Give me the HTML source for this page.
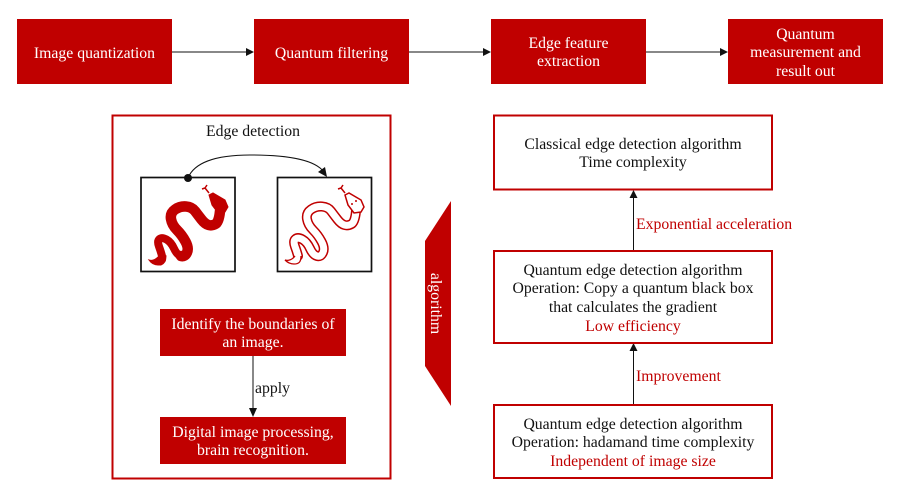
<!DOCTYPE html>
<html><head><meta charset="utf-8"><style>
html,body{margin:0;padding:0;background:#fff;width:900px;height:489px;overflow:hidden}
svg{display:block}
text{font-family:"Liberation Serif",serif;font-size:15.75px;text-anchor:middle;fill:#111}
.w{fill:#fff}.r{fill:#c00000}
.l{text-anchor:start}
</style></head><body>
<svg width="900" height="489" viewBox="0 0 900 489" xmlns="http://www.w3.org/2000/svg">
<defs>
<path id="b1" d="M220 211 Q219 222 215.500 224 Q212 226 208.500 225 Q205 224 201.500 219.500 Q198 215 195 211 Q192 207 186 206.500 Q180 206 175 209.500 Q170 213 171 219 Q172 225 177 230 Q182 235 185.500 241.500 Q189 248 187 252.500 Q185 257 181 256" fill="none" stroke-linecap="round" stroke-linejoin="round"/>
<path id="b2" d="M181 256 Q177 255 174 248.500 Q171 242 166.500 239.500 Q162 237 159.500 239 Q157 241 159 246.500 Q161 252 162 256 Q163 260 160 261.500" fill="none" stroke-linecap="round" stroke-linejoin="round"/>
<path id="whole" d="M220 211 Q219 222 215.500 224 Q212 226 208.500 225 Q205 224 201.500 219.500 Q198 215 195 211 Q192 207 186 206.500 Q180 206 175 209.500 Q170 213 171 219 Q172 225 177 230 Q182 235 185.500 241.500 Q189 248 187 252.500 Q185 257 181 256 Q177 255 174 248.500 Q171 242 166.500 239.500 Q162 237 159.500 239 Q157 241 159 246.500 Q161 252 162 256" fill="none" stroke-linecap="round" stroke-linejoin="round"/>
</defs>
<g fill="#c00000">
<rect x="17" y="19" width="155" height="65"/>
<rect x="254" y="19" width="155" height="65"/>
<rect x="491" y="19" width="155" height="65"/>
<rect x="728" y="19" width="155" height="65"/>
<rect x="160" y="309" width="186" height="47"/>
<rect x="160" y="417" width="186" height="47"/>
<polygon points="451,201 451,406 425,366 425,241"/>
</g>
<g stroke="#111" stroke-width="1" fill="none">
<line x1="172" y1="52" x2="247" y2="52"/>
<line x1="409" y1="52" x2="484" y2="52"/>
<line x1="646" y1="52" x2="721" y2="52"/>
<line x1="253" y1="356" x2="253" y2="411"/>
<line x1="633.500" y1="250" x2="633.500" y2="196"/>
<line x1="633.500" y1="404" x2="633.500" y2="349"/>
<path d="M188 178 C194 163 215 155 250 155 C290 155 315 160 324 172"/>
</g>
<g fill="#111">
<polygon points="254,52 246,48 246,56"/>
<polygon points="491,52 483,48 483,56"/>
<polygon points="728,52 720,48 720,56"/>
<polygon points="253,417 249,408 257,408"/>
<polygon points="633.500,190 629.500,198 637.500,198"/>
<polygon points="633.500,343 629.500,351 637.500,351"/>
<polygon points="327,177 318,172 325,167"/>
<circle cx="188" cy="178" r="4"/>
</g>
<g fill="none" stroke="#c00000" stroke-width="2">
<rect x="112.500" y="115.500" width="278" height="363"/>
<rect x="494" y="115.500" width="278" height="74"/>
<rect x="494" y="251" width="278" height="92"/>
<rect x="494" y="405" width="278" height="73"/>
</g>
<g fill="none" stroke="#111" stroke-width="1.700">
<rect x="141" y="177.500" width="94" height="94"/>
<rect x="277.500" y="177.500" width="94" height="94"/>
</g>
<!-- filled snake -->
<g stroke="#c00000">
<use href="#b1" stroke-width="10.500"/>
<use href="#b2" stroke-width="8"/>
<path d="M166 256 C165 262 163 265 158 265 C154 265 151 263 149 260 C152 261 155 260 158 257 Z" fill="#c00000" stroke-width="1"/>
<path d="M209 195 L213 193 L225 200 L228 207 L225 212 L218 213 L212 205 Z" fill="#c00000" stroke-width="1"/>
<path d="M209 193 L205 188 M205 188 L202 189 M205 188 L207 185" fill="none" stroke-width="1.500"/>
</g>
<!-- outlined snake -->
<g transform="translate(136 0)">
<g stroke="#c00000"><use href="#whole" stroke-width="10"/></g>
<g stroke="#fff"><use href="#whole" stroke-width="7"/></g>
<path d="M165 256 C165 262 163 264 158 264 C154 264 151 262 149 260 C152 261 156 260 159 256" fill="#fff" stroke="#c00000" stroke-width="1.300"/>
<path d="M209 195 L213 193 L225 200 L228 207 L225 212 L218 213 L212 205 Z" fill="#fff" stroke="#c00000" stroke-width="1.500"/>
<path d="M209 193 L205 188 M205 188 L202 189 M205 188 L207 185" fill="none" stroke="#c00000" stroke-width="1.500"/>
<circle cx="216" cy="204" r="1" fill="#c00000"/><circle cx="220" cy="201" r="1" fill="#c00000"/>
</g>
<text class="w" x="94.500" y="58">Image quantization</text>
<text class="w" x="331.500" y="58">Quantum filtering</text>
<text class="w" x="568.500" y="48">Edge feature</text>
<text class="w" x="568.500" y="66">extraction</text>
<text class="w" x="805.500" y="39">Quantum</text>
<text class="w" x="805.500" y="57">measurement and</text>
<text class="w" x="805.500" y="76">result out</text>
<text x="253" y="136">Edge detection</text>
<text class="w" x="253" y="329">Identify the boundaries of</text>
<text class="w" x="253" y="347">an image.</text>
<text class="w" x="253" y="437">Digital image processing,</text>
<text class="w" x="253" y="455">brain recognition.</text>
<text class="l" x="255" y="393">apply</text>
<text class="w" transform="translate(431 303.500) rotate(90)">algorithm</text>
<text x="633" y="149">Classical edge detection algorithm</text>
<text x="633" y="167">Time complexity</text>
<text x="633" y="275">Quantum edge detection algorithm</text>
<text x="633" y="293">Operation: Copy a quantum black box</text>
<text x="633" y="312">that calculates the gradient</text>
<text class="r" x="633" y="331">Low efficiency</text>
<text x="633" y="429">Quantum edge detection algorithm</text>
<text x="633" y="447">Operation: hadamand time complexity</text>
<text class="r" x="633" y="466">Independent of image size</text>
<text class="r l" x="636" y="229">Exponential acceleration</text>
<text class="r l" x="636" y="381">Improvement</text>
</svg>
</body></html>
